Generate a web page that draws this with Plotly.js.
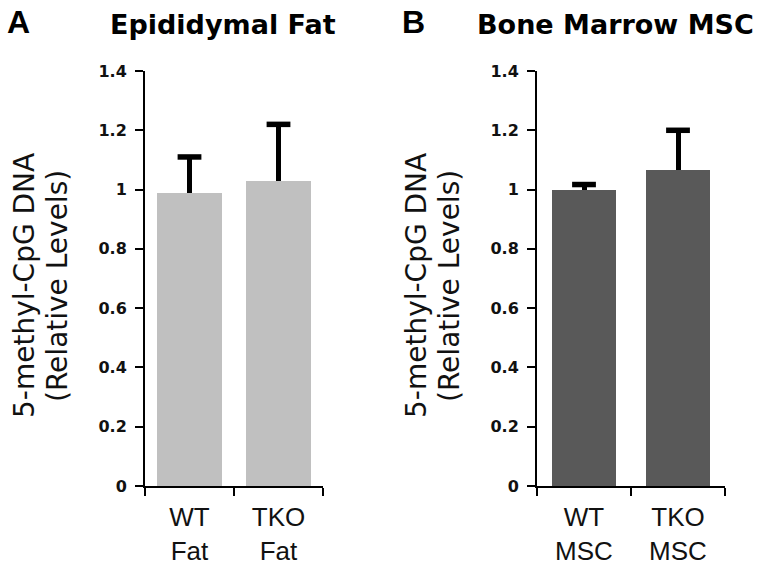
<!DOCTYPE html>
<html>
<head>
<meta charset="utf-8">
<script src="https://cdn.plot.ly/plotly-3.0.1.min.js"></script>
<style>html,body{margin:0;padding:0;background:#fff;}#chart{width:764px;height:567px;}</style>
</head>
<body>
<div id="chart"></div>
<script>
// Panel A: Epididymal Fat
const categoriesA = ['WT<br>Fat', 'TKO<br>Fat'];
const valuesA = [0.99, 1.03];
const errorsA = [0.12, 0.19];
// Panel B: Bone Marrow MSC
const categoriesB = ['WT<br>MSC', 'TKO<br>MSC'];
const valuesB = [1.0, 1.067];
const errorsB = [0.017, 0.133];
// Y axis ticks
const yTickVals = [0, 0.2, 0.4, 0.6, 0.8, 1, 1.2, 1.4];
const yTickText = ['0', '0.2', '0.4', '0.6', '0.8', '1', '1.2', '1.4'];
const panelTitles = ['Epididymal Fat', 'Bone Marrow MSC'];
const panelLetters = ['A', 'B'];
const yTitleLines = ['5-methyl-CpG DNA', '(Relative Levels)'];

const W = 764, H = 567;
const px = v => v / W;
const py = v => 1 - v / H;

function barTrace(cats, vals, errs, color, xa, ya, width) {
  return {
    type: 'bar', x: cats, y: vals, xaxis: xa, yaxis: ya,
    width: width,
    marker: {color: color, line: {width: 0}},
    error_y: {type: 'data', symmetric: false, array: errs, arrayminus: errs.map(() => 0),
              color: '#000', thickness: 5, width: 0},
    hoverinfo: 'skip', showlegend: false
  };
}
function capTrace(cats, vals, errs, xa, ya) {
  return {
    type: 'scatter', mode: 'markers', x: cats, y: vals.map((v, i) => v + errs[i]),
    xaxis: xa, yaxis: ya,
    marker: {symbol: 'line-ew', size: 17, color: '#000', line: {color: '#000', width: 5.5}},
    hoverinfo: 'skip', showlegend: false, cliponaxis: false
  };
}

const data = [
  barTrace(categoriesA, valuesA, errorsA, '#c0c0c0', 'x', 'y', 0.72),
  capTrace(categoriesA, valuesA, errorsA, 'x', 'y'),
  barTrace(categoriesB, valuesB, errorsB, '#595959', 'x2', 'y2', 0.69),
  capTrace(categoriesB, valuesB, errorsB, 'x2', 'y2')
];

const yDom = [py(486), py(71)];
function xAxis(dom, anchor) {
  return {
    domain: dom, anchor: anchor, type: 'category', range: [-0.5, 1.5],
    showline: true, linecolor: '#000', linewidth: 2,
    ticks: 'outside', tickson: 'boundaries', ticklen: 8, tickwidth: 2, tickcolor: '#000',
    showgrid: false, zeroline: false, fixedrange: true, ticklabelstandoff: 7,
    tickfont: {family: 'Liberation Sans, Arial, sans-serif', size: 26, color: '#111'}
  };
}
function yAxis(anchor) {
  return {
    domain: yDom, anchor: anchor, range: [0, 1.4],
    tickmode: 'array', tickvals: yTickVals, ticktext: yTickText,
    showline: true, linecolor: '#000', linewidth: 2,
    ticks: 'outside', ticklen: 8, tickwidth: 2, tickcolor: '#000',
    showgrid: false, zeroline: false, fixedrange: true, ticklabelstandoff: 5,
    tickfont: {family: 'DejaVu Sans, sans-serif', size: 16, color: '#111', weight: 'bold'}
  };
}

const annotations = [];
const titleCenters = [223, 615];
const letterCenters = [18, 413];
const yTitleCenters = [[24, 57], [416, 449]];
for (let i = 0; i < 2; i++) {
  annotations.push({
    xref: 'paper', yref: 'paper', x: px(titleCenters[i]), y: py(25), xanchor: 'center', yanchor: 'middle',
    text: '<b>' + panelTitles[i] + '</b>', showarrow: false,
    font: {family: 'DejaVu Sans, sans-serif', size: 27, color: '#000'}
  });
  annotations.push({
    xref: 'paper', yref: 'paper', x: px(letterCenters[i]), y: py(22), xanchor: 'center', yanchor: 'middle',
    text: '<b>' + panelLetters[i] + '</b>', showarrow: false,
    font: {family: 'Liberation Sans, Arial, sans-serif', size: 32, color: '#000'}
  });
  for (let j = 0; j < 2; j++) {
    annotations.push({
      xref: 'paper', yref: 'paper', x: px(yTitleCenters[i][j]), y: py(286), xanchor: 'center', yanchor: 'middle',
      text: yTitleLines[j], showarrow: false, textangle: -90,
      font: {family: 'DejaVu Sans, sans-serif', size: 28, color: '#111'}
    });
  }
}

const layout = {
  width: W, height: H,
  margin: {l: 0, r: 0, t: 0, b: 0},
  paper_bgcolor: '#fff', plot_bgcolor: '#fff',
  xaxis: xAxis([px(145), px(323)], 'y'),
  yaxis: yAxis('x'),
  xaxis2: xAxis([px(537), px(725)], 'y2'),
  yaxis2: yAxis('x2'),
  annotations: annotations,
  showlegend: false, bargap: 0
};

Plotly.newPlot('chart', data, layout, {staticPlot: true, displayModeBar: false});
</script>
</body>
</html>
